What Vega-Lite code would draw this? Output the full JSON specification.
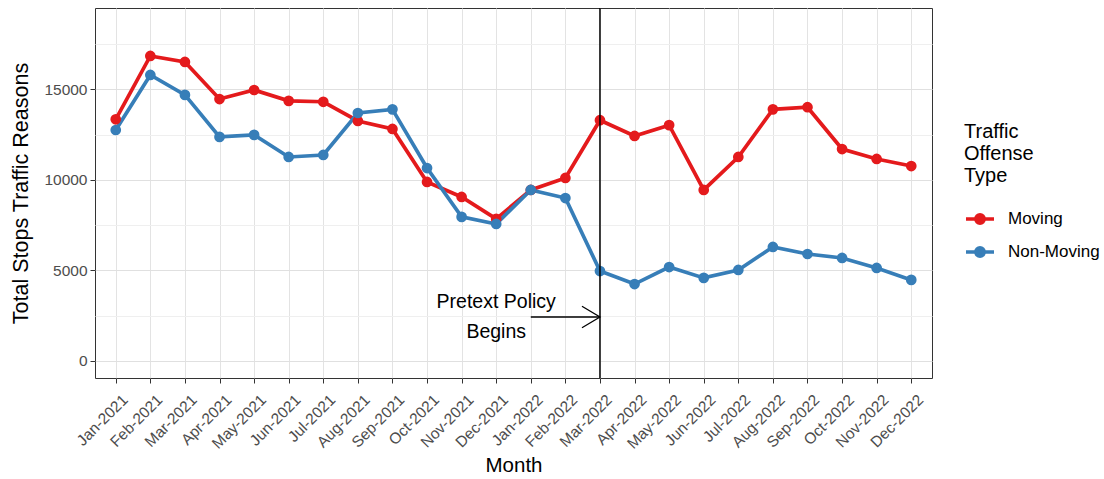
{
  "$schema": "https://vega.github.io/schema/vega-lite/v6.json",
  "width": 837,
  "height": 370,
  "autosize": {"type": "none"},
  "padding": {"left": 95, "top": 8, "right": 172, "bottom": 101},
  "background": "white",
  "config": {
    "font": "Liberation Sans",
    "view": {"stroke": "#333333", "strokeWidth": 1},
    "axis": {
      "domain": false,
      "tickColor": "#333333",
      "tickSize": 5,
      "labelColor": "#4d4d4d",
      "labelFontSize": 15.5,
      "titleFontSize": 20.5,
      "titleFontWeight": "normal",
      "titleColor": "#000000",
      "gridColor": "#e3e3e3",
      "gridWidth": 1
    }
  },
  "datasets": {
    "stops": [
      {"month": "Jan-2021", "type": "Moving", "stops": 13350},
      {"month": "Feb-2021", "type": "Moving", "stops": 16850},
      {"month": "Mar-2021", "type": "Moving", "stops": 16520},
      {"month": "Apr-2021", "type": "Moving", "stops": 14470},
      {"month": "May-2021", "type": "Moving", "stops": 14970},
      {"month": "Jun-2021", "type": "Moving", "stops": 14370},
      {"month": "Jul-2021", "type": "Moving", "stops": 14320},
      {"month": "Aug-2021", "type": "Moving", "stops": 13260},
      {"month": "Sep-2021", "type": "Moving", "stops": 12820},
      {"month": "Oct-2021", "type": "Moving", "stops": 9890},
      {"month": "Nov-2021", "type": "Moving", "stops": 9060},
      {"month": "Dec-2021", "type": "Moving", "stops": 7850},
      {"month": "Jan-2022", "type": "Moving", "stops": 9450},
      {"month": "Feb-2022", "type": "Moving", "stops": 10110},
      {"month": "Mar-2022", "type": "Moving", "stops": 13300},
      {"month": "Apr-2022", "type": "Moving", "stops": 12430},
      {"month": "May-2022", "type": "Moving", "stops": 13030},
      {"month": "Jun-2022", "type": "Moving", "stops": 9450},
      {"month": "Jul-2022", "type": "Moving", "stops": 11270},
      {"month": "Aug-2022", "type": "Moving", "stops": 13900},
      {"month": "Sep-2022", "type": "Moving", "stops": 14020},
      {"month": "Oct-2022", "type": "Moving", "stops": 11710},
      {"month": "Nov-2022", "type": "Moving", "stops": 11160},
      {"month": "Dec-2022", "type": "Moving", "stops": 10770},
      {"month": "Jan-2021", "type": "Non-Moving", "stops": 12760},
      {"month": "Feb-2021", "type": "Non-Moving", "stops": 15800},
      {"month": "Mar-2021", "type": "Non-Moving", "stops": 14700},
      {"month": "Apr-2021", "type": "Non-Moving", "stops": 12380},
      {"month": "May-2021", "type": "Non-Moving", "stops": 12490},
      {"month": "Jun-2021", "type": "Non-Moving", "stops": 11270},
      {"month": "Jul-2021", "type": "Non-Moving", "stops": 11380},
      {"month": "Aug-2021", "type": "Non-Moving", "stops": 13700},
      {"month": "Sep-2021", "type": "Non-Moving", "stops": 13900},
      {"month": "Oct-2021", "type": "Non-Moving", "stops": 10660},
      {"month": "Nov-2021", "type": "Non-Moving", "stops": 7960},
      {"month": "Dec-2021", "type": "Non-Moving", "stops": 7570},
      {"month": "Jan-2022", "type": "Non-Moving", "stops": 9450},
      {"month": "Feb-2022", "type": "Non-Moving", "stops": 9000},
      {"month": "Mar-2022", "type": "Non-Moving", "stops": 4970},
      {"month": "Apr-2022", "type": "Non-Moving", "stops": 4250},
      {"month": "May-2022", "type": "Non-Moving", "stops": 5190},
      {"month": "Jun-2022", "type": "Non-Moving", "stops": 4590},
      {"month": "Jul-2022", "type": "Non-Moving", "stops": 5030},
      {"month": "Aug-2022", "type": "Non-Moving", "stops": 6300},
      {"month": "Sep-2022", "type": "Non-Moving", "stops": 5910},
      {"month": "Oct-2022", "type": "Non-Moving", "stops": 5690},
      {"month": "Nov-2022", "type": "Non-Moving", "stops": 5140},
      {"month": "Dec-2022", "type": "Non-Moving", "stops": 4480}
    ],
    "vline": [{"month": "Mar-2022"}],
    "arrow": [{"month": "Jan-2022", "end": "Mar-2022", "y": 2430}],
    "arrowhead": [{"month": "Mar-2022", "y": 2430}],
    "labels": [
      {"month": "Dec-2021", "y": 3260, "text": "Pretext Policy"},
      {"month": "Dec-2021", "y": 1600, "text": "Begins"}
    ]
  },
  "encoding": {
    "x": {
      "field": "month",
      "type": "ordinal",
      "scale": {
        "type": "point",
        "padding": 0.6,
        "domain": ["Jan-2021","Feb-2021","Mar-2021","Apr-2021","May-2021","Jun-2021","Jul-2021","Aug-2021","Sep-2021","Oct-2021","Nov-2021","Dec-2021","Jan-2022","Feb-2022","Mar-2022","Apr-2022","May-2022","Jun-2022","Jul-2022","Aug-2022","Sep-2022","Oct-2022","Nov-2022","Dec-2022"]
      },
      "axis": {"title": "Month", "labelAngle": -45, "labelAlign": "right", "labelBaseline": "top", "labelPadding": 9, "labelOffset": 4, "grid": true, "titlePadding": 4, "labelOverlap": false}
    }
  },
  "layer": [
    {
      "data": {"name": "stops"},
      "mark": {"type": "line", "strokeWidth": 3.7},
      "encoding": {
        "y": {
          "field": "stops",
          "type": "quantitative",
          "scale": {"domain": [-940, 19500], "nice": false, "zero": false},
          "axis": {
            "title": "Total Stops Traffic Reasons",
            "titleFontSize": 21.5,
            "values": [0, 2500, 5000, 7500, 10000, 12500, 15000, 17500],
            "format": "d",
            "labelExpr": "datum.value % 5000 === 0 ? datum.label : ''",
            "tickColor": {"condition": {"test": "datum.value % 5000 !== 0", "value": "transparent"}, "value": "#333333"},
            "gridColor": {"condition": {"test": "datum.value % 5000 !== 0", "value": "#efefef"}, "value": "#e0e0e0"},
            "labelPadding": 3,
            "titlePadding": 11,
            "grid": true
          }
        },
        "color": {
          "field": "type",
          "type": "nominal",
          "scale": {"domain": ["Moving", "Non-Moving"], "range": ["#E41A1C", "#377EB8"]},
          "legend": {
            "title": ["Traffic", "Offense", "Type"],
            "orient": "none",
            "legendX": 869,
            "legendY": 114,
            "titleFontSize": 20,
            "titleFontWeight": "normal",
            "titleColor": "#000000",
            "titleLineHeight": 22,
            "titlePadding": 17,
            "labelFontSize": 17,
            "labelColor": "#000000",
            "labelOffset": 12,
            "rowPadding": 5,
            "symbolType": "M-1,0L1,0M-0.3,0A0.3,0.3,0,1,1,0.3,0A0.3,0.3,0,1,1,-0.3,0Z",
            "symbolSize": 784,
            "symbolStrokeWidth": 3.5
          }
        }
      }
    },
    {
      "data": {"name": "stops"},
      "mark": {"type": "point", "filled": true, "size": 115, "opacity": 1},
      "encoding": {
        "y": {"field": "stops", "type": "quantitative"},
        "color": {"field": "type", "type": "nominal"}
      }
    },
    {
      "data": {"name": "vline"},
      "mark": {"type": "rule", "color": "#000000", "strokeWidth": 1.5},
      "encoding": {}
    },
    {
      "data": {"name": "arrow"},
      "mark": {"type": "rule", "color": "#000000", "strokeWidth": 1.3},
      "encoding": {
        "x2": {"field": "end"},
        "y": {"field": "y", "type": "quantitative"}
      }
    },
    {
      "data": {"name": "arrowhead"},
      "mark": {"type": "point", "shape": "M-1,-0.6L0,0L-1,0.6", "filled": false, "stroke": "#000000", "strokeWidth": 1.3, "size": 1296, "opacity": 1},
      "encoding": {
        "y": {"field": "y", "type": "quantitative"}
      }
    },
    {
      "data": {"name": "labels"},
      "mark": {"type": "text", "fontSize": 19.5, "color": "#000000", "align": "center", "baseline": "middle"},
      "encoding": {
        "y": {"field": "y", "type": "quantitative"},
        "text": {"field": "text"}
      }
    }
  ]
}
